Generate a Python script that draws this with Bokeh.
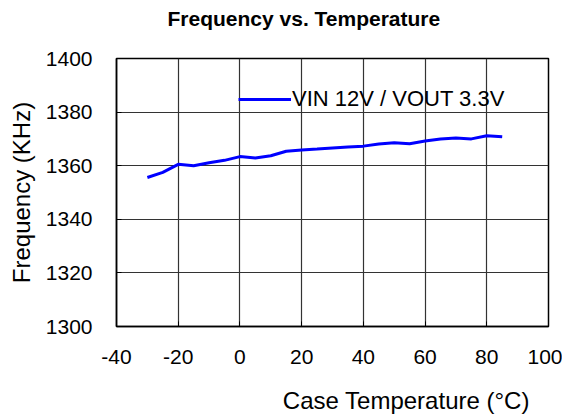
from bokeh.plotting import figure
from bokeh.models import Range1d, FixedTicker, Legend, LegendItem, Title
from bokeh.embed import file_html
from bokeh.resources import INLINE

# data
temperature = [-30, -25, -20, -15, -10, -5, 0, 5, 10, 15, 20, 25, 30, 35, 40, 45, 50, 55, 60, 65, 70, 75, 80, 85]
frequency = [1355.6, 1357.5, 1360.5, 1360.0, 1361.1, 1362.0, 1363.4, 1362.9, 1363.7, 1365.4, 1365.9, 1366.2,
             1366.6, 1367.0, 1367.3, 1368.1, 1368.6, 1368.2, 1369.2, 1370.0, 1370.3, 1370.0, 1371.2, 1370.8]
series_name = "VIN 12V / VOUT 3.3V"
title_text = "Frequency vs. Temperature"
x_title = "Case  Temperature (°C)"
y_title = "Frequency (KHz)"
x_ticks = [-40, -20, 0, 20, 40, 60, 80, 100]
x_tick_labels = ["-40", "-20", "0", "20", "40", "60", "80", "100"]
y_ticks = [1300, 1320, 1340, 1360, 1380, 1400]

FONT = "Liberation Sans"

p = figure(frame_width=432, frame_height=268, output_backend="svg", toolbar_location=None,
           x_range=Range1d(x_ticks[0], x_ticks[-1]), y_range=Range1d(y_ticks[0], y_ticks[-1]),
           min_border_left=116, min_border_right=14, min_border_top=58, min_border_bottom=86)
p.background_fill_color = "white"
p.border_fill_color = "white"
p.outline_line_color = "black"
p.outline_line_width = 1.5

# empty spacer between frame and title
p.add_layout(Title(text=" ", text_font_size="1px", standoff=22), "above")

p.title.text = title_text
p.title.text_font = FONT
p.title.text_font_size = "21px"
p.title.text_font_style = "bold"
p.title.text_color = "black"
p.title.align = "left"
p.title.offset = 51
p.title.standoff = 8

for ax, ticks in ((p.xaxis[0], x_ticks), (p.yaxis[0], y_ticks)):
    ax.ticker = FixedTicker(ticks=ticks)
    ax.major_label_text_font = FONT
    ax.major_label_text_font_size = "21px"
    ax.major_label_text_color = "black"
    ax.axis_line_color = "black"
    ax.axis_line_width = 1.5
    ax.major_tick_in = 5
    ax.major_tick_out = 0
    ax.major_tick_line_color = "black"
    ax.minor_tick_line_color = None

p.xaxis.major_label_overrides = {t: s for t, s in zip(x_ticks, x_tick_labels)}
p.xaxis.major_label_standoff = 23
p.yaxis.major_label_standoff = 24

p.yaxis.axis_label = y_title
p.yaxis.axis_label_text_font = FONT
p.yaxis.axis_label_text_font_size = "24px"
p.yaxis.axis_label_text_font_style = "normal"
p.yaxis.axis_label_text_color = "black"
p.yaxis.axis_label_standoff = 8

# empty spacer between tick labels and the x-axis title
p.add_layout(Title(text=" ", text_font_size="1px", standoff=14), "below")
xt = Title(text=x_title, align="right", offset=12, vertical_align="bottom", standoff=2,
           text_font=FONT, text_font_size="24px", text_font_style="normal", text_color="black")
p.add_layout(xt, "below")

p.xgrid.grid_line_color = "#333333"
p.ygrid.grid_line_color = "#333333"
p.xgrid.grid_line_width = 1.2
p.ygrid.grid_line_width = 1.2

r = p.line(temperature, frequency, line_color="#0000FF", line_width=3)

legend = Legend(items=[LegendItem(label=series_name, renderers=[r])],
                location=(122, 214), glyph_width=53, glyph_height=20, label_standoff=1,
                padding=0, margin=0, border_line_alpha=0, background_fill_alpha=0,
                label_text_font=FONT, label_text_font_size="22px", label_text_color="black")
p.add_layout(legend, "center")

open("out.html", "w").write(file_html(p, INLINE))
